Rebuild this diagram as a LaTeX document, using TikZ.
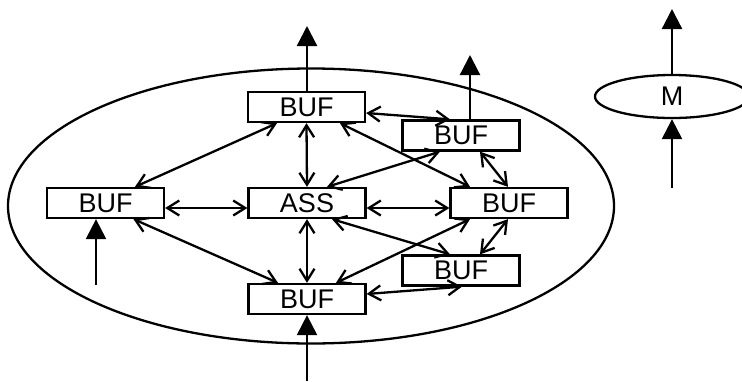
\documentclass[tikz,border=0pt]{standalone}
\usepackage{fontspec}
\setmainfont{Liberation Sans}
\usetikzlibrary{arrows.meta,shapes.geometric}
\begin{document}
\begin{tikzpicture}[x=1pt,y=-1pt,
  line width=2.3pt,
  buf/.style={draw, rectangle, minimum width=117pt, minimum height=30pt, inner sep=0pt, font=\fontsize{27}{27}\selectfont},
  bi/.style={{Straight Barb[length=12pt,width=15pt]}-{Straight Barb[length=12pt,width=15pt]}},
  outarrow/.style={-{Triangle[length=20pt,width=20pt]}}
]
\clip (0,0) rectangle (742,381);
% big ellipse
\draw (311,206) ellipse [x radius=303, y radius=137.5];
% nodes
\node[buf] (T)  at (306.5,107)   {BUF};
\node[buf] (UR) at (461,135.5)   {BUF};
\node[buf] (L)  at (105.5,203)   {BUF};
\node[buf] (A)  at (307,203)     {ASS};
\node[buf] (R)  at (509,203)     {BUF};
\node[buf] (LR) at (461,270.5)   {BUF};
\node[buf] (B)  at (307,299)     {BUF};
\node[draw, ellipse, minimum width=154pt, minimum height=43pt, inner sep=0pt, font=\fontsize{27}{27}\selectfont] (M) at (672,96.5) {M};
% free ends
\coordinate (Tout) at (307,26);
\coordinate (URout) at (470,55);
\coordinate (Lin) at (96,285);
\coordinate (Bin) at (307,381);
\coordinate (Mout) at (672,9);
\coordinate (Min) at (672,188);
% double connectors
\draw[bi] ([yshift=-6pt]T.east) -- ([xshift=-11pt]UR.north);
\draw[bi] ([xshift=-29.5pt]T.south) -- ([xshift=29.5pt]L.north);
\draw[bi] (T.south) -- (A.north);
\draw[bi] ([xshift=33.5pt]T.south) -- ([xshift=-39pt]R.north);
\draw[bi] ([xshift=-21pt]UR.south) -- ([xshift=20pt]A.north);
\draw[bi] ([xshift=19pt]UR.south) -- ([xshift=-1pt]R.north);
\draw[bi] ([yshift=-5pt]L.east) -- ([yshift=-5pt]A.west);
\draw[bi] ([yshift=-5pt]A.east) -- ([yshift=-5pt]R.west);
\draw[bi] ([xshift=28pt]L.south) -- ([xshift=-29pt]B.north);
\draw[bi] (A.south) -- (B.north);
\draw[bi] ([xshift=25pt]A.south) -- ([xshift=-11pt]LR.north);
\draw[bi] ([xshift=-39pt]R.south) -- ([xshift=29pt]B.north);
\draw[bi] ([xshift=-1pt]R.south) -- ([xshift=19pt]LR.north);
\draw[bi] ([xshift=1pt]LR.south) -- ([yshift=5pt]B.east);
% in/out arrows
\draw[outarrow] ([xshift=0.5pt]T.north) -- (Tout);
\draw[outarrow] ([xshift=9pt]UR.north) -- (URout);
\draw[outarrow] (Lin) -- ([xshift=-9.5pt]L.south);
\draw[outarrow] (Bin) -- (B.south);
\draw[outarrow] (M.north) -- (Mout);
\draw[outarrow] (Min) -- (M.south);
\end{tikzpicture}
\end{document}
